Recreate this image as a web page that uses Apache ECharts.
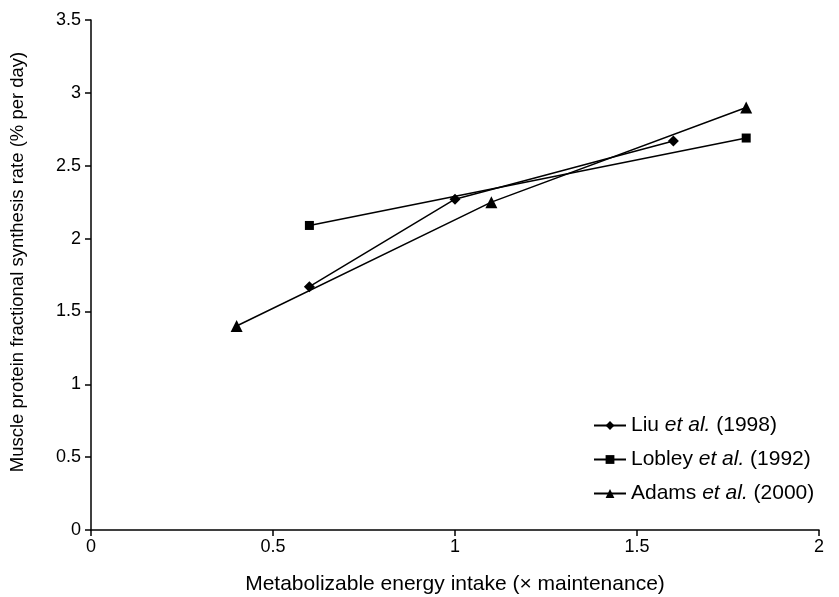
<!DOCTYPE html>
<html>
<head>
<meta charset="utf-8">
<script src="https://cdn.jsdelivr.net/npm/echarts@6/dist/echarts.min.js"></script>
<style>
  html, body { margin: 0; padding: 0; background: #fff; }
  #main { width: 839px; height: 597px; }
</style>
</head>
<body>
<div id="main"></div>
<script>
// data
var liuX = [0.6, 1.0, 1.6];
var liuY = [1.67, 2.27, 2.67];
var lobleyX = [0.6, 1.8];
var lobleyY = [2.09, 2.69];
var adamsX = [0.4, 1.1, 1.8];
var adamsY = [1.40, 2.25, 2.90];

var seriesNames = ['Liu', 'Lobley', 'Adams'];
var seriesYears = ['(1998)', '(1992)', '(2000)'];

function pairs(xs, ys) {
  var out = [];
  for (var i = 0; i < xs.length; i++) out.push([xs[i], ys[i]]);
  return out;
}

var chart = echarts.init(document.getElementById('main'));
var font = 'Liberation Sans, Arial, Helvetica, sans-serif';

function mkSeries(name, data, symbol, size) {
  return {
    name: name,
    type: 'line',
    data: data,
    symbol: symbol,
    symbolSize: size,
    showAllSymbol: true,
    lineStyle: { color: '#000', width: 1.5 },
    itemStyle: { color: '#000' },
    animation: false
  };
}

var option = {
  backgroundColor: '#fff',
  grid: { left: 91, right: 20, top: 20, bottom: 67, outerBoundsMode: 'none' },
  legend: {
    left: 588,
    top: 410,
    orient: 'vertical',
    itemGap: 13,
    itemWidth: 32,
    itemHeight: 11,
    data: seriesNames,
    formatter: function (name) {
      var i = seriesNames.indexOf(name);
      return '{n|' + name + ' }{i|et al.}{n| ' + seriesYears[i] + '}';
    },
    textStyle: {
      rich: {
        n: { fontFamily: font, fontSize: 21, lineHeight: 24, color: '#000' },
        i: { fontFamily: font, fontSize: 21, lineHeight: 24, color: '#000', fontStyle: 'italic' }
      }
    }
  },
  xAxis: {
    type: 'value',
    min: 0, max: 2, interval: 0.5,
    name: 'Metabolizable energy intake (\u00d7 maintenance)',
    nameLocation: 'middle',
    nameGap: 44,
    nameTextStyle: { fontFamily: font, fontSize: 21, color: '#000' },
    axisLine: { lineStyle: { color: '#000', width: 1.5 } },
    axisTick: { show: true, length: 6, lineStyle: { color: '#000', width: 1.5 } },
    axisLabel: { fontFamily: font, fontSize: 18, color: '#000', margin: 8 },
    splitLine: { show: false }
  },
  yAxis: {
    type: 'value',
    min: 0, max: 3.5, interval: 0.5,
    name: 'Muscle protein fractional synthesis rate (% per day)',
    nameLocation: 'middle',
    nameGap: 64,
    nameTextStyle: { fontFamily: font, fontSize: 18.5, color: '#000', padding: [0, 0, 0, 26] },
    axisLine: { show: true, lineStyle: { color: '#000', width: 1.5 } },
    axisTick: { show: true, length: 6, lineStyle: { color: '#000', width: 1.5 } },
    axisLabel: { fontFamily: font, fontSize: 18, color: '#000', margin: 10 },
    splitLine: { show: false }
  },
  series: [
    mkSeries('Liu', pairs(liuX, liuY), 'diamond', 11),
    mkSeries('Lobley', pairs(lobleyX, lobleyY), 'rect', 9),
    mkSeries('Adams', pairs(adamsX, adamsY), 'triangle', 12)
  ]
};
chart.setOption(option);
</script>
</body>
</html>
